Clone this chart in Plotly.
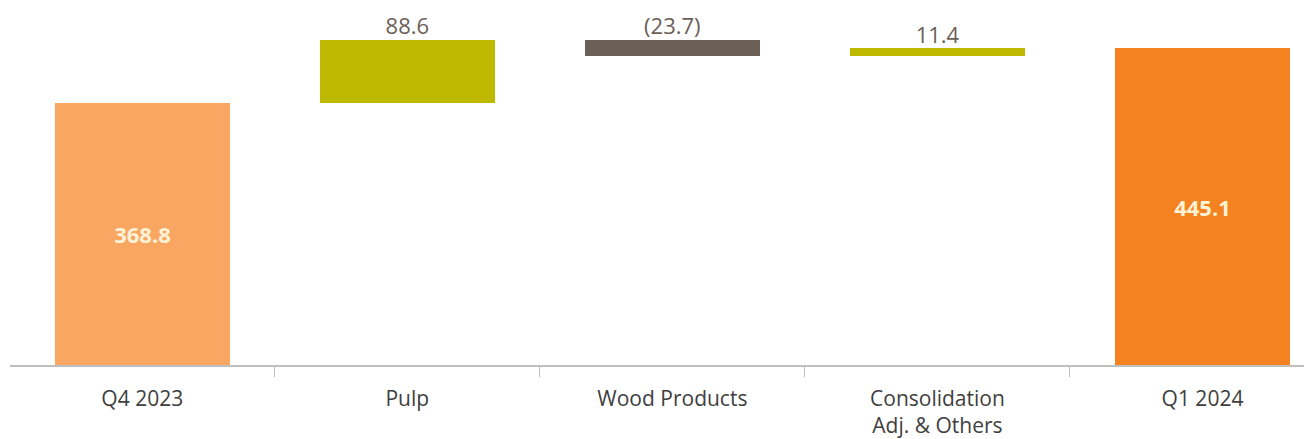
import plotly.graph_objects as go

categories = ["Q4 2023", "Pulp", "Wood Products", "Consolidation<br>Adj. & Others", "Q1 2024"]
values = [368.8, 88.6, -23.7, 11.4, 445.1]
kinds = ["total", "delta", "delta", "delta", "total"]
labels = ["368.8", "88.6", "(23.7)", "11.4", "445.1"]
colors = ["#F8A662", "#BFB800", "#6B6058", "#BFB800", "#F58220"]

bases, lengths, tops = [], [], []
running = 0.0
for v, k in zip(values, kinds):
    if k == "total":
        bases.append(0.0)
        lengths.append(v)
        running = v
        tops.append(v)
    else:
        bases.append(running)
        lengths.append(v)
        tops.append(max(running, running + v))
        running += v

inside_text = [l if k == "total" else "" for l, k in zip(labels, kinds)]

fig = go.Figure()
fig.add_trace(go.Bar(
    x=categories, y=lengths, base=bases,
    marker=dict(color=colors, line=dict(width=0)),
    width=0.66,
    text=inside_text, textposition="inside", insidetextanchor="middle",
    textfont=dict(family="Open Sans", size=22, color="#FFF3D6", weight="bold"),
    hoverinfo="skip",
))
dx = [c for c, k in zip(categories, kinds) if k == "delta"]
dy = [t for t, k in zip(tops, kinds) if k == "delta"]
dl = [l for l, k in zip(labels, kinds) if k == "delta"]
fig.add_trace(go.Scatter(
    x=dx, y=dy, mode="text", text=dl, textposition="top center",
    textfont=dict(family="Open Sans", size=22, color="#6B6058"),
    hoverinfo="skip",
))

fig.update_layout(
    width=1304, height=439,
    margin=dict(l=10, r=0, t=0, b=72),
    paper_bgcolor="white", plot_bgcolor="white",
    showlegend=False, bargap=0,
)
fig.update_xaxes(
    type="category", range=[-0.499, 4.383],
    showline=True, linecolor="#BFBFBF", linewidth=1.5,
    ticks="outside", tickson="boundaries", ticklen=10, tickcolor="#BFBFBF",
    ticklabelstandoff=14,
    showgrid=False, zeroline=False,
    tickfont=dict(family="Open Sans", size=21, color="#404040"),
)
fig.update_yaxes(range=[0, 513], visible=False, showgrid=False, zeroline=False)

fig.write_html("out.html", config={"displayModeBar": False},
               post_script="document.body.style.margin='0px';")
